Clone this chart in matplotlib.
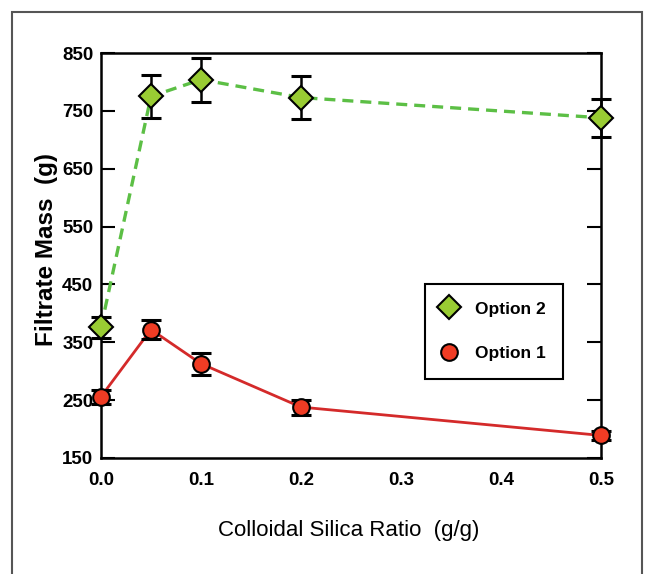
import matplotlib
matplotlib.use("Agg")
import matplotlib.pyplot as plt
from matplotlib.patches import Rectangle
from matplotlib.lines import Line2D

# data
ratio = [0.0, 0.05, 0.1, 0.2, 0.5]
option2 = [376, 775, 804, 773, 738]
option2_err = [18, 37, 38, 37, 33]
option1 = [256, 372, 313, 238, 189]
option1_err = [12, 17, 19, 13, 8]

yticks = [150, 250, 350, 450, 550, 650, 750, 850]
xticks = [0.0, 0.1, 0.2, 0.3, 0.4, 0.5]

green_line = '#5cbf45'
green_fill = '#99cc33'
red_line = '#d42a2a'
red_fill = '#f03c24'

fig = plt.figure(figsize=(6.45, 5.74), dpi=100, facecolor='white')
ax = fig.add_axes([101 / 645, 1 - 458 / 574, 500 / 645, 405 / 574])

# outer frame around the figure
fig.patches.append(Rectangle((12 / 645, -0.05), 630 / 645, 1.05 - 12 / 574,
                             transform=fig.transFigure, fill=False,
                             edgecolor='#555555', linewidth=1.5))

ax.plot(ratio, option2, color=green_line, linestyle=(0, (3.3, 2.1)), linewidth=2.4, zorder=2)
ax.plot(ratio, option1, color=red_line, linewidth=2.0, zorder=2)

ax.errorbar(ratio, option2, yerr=option2_err, fmt='none', ecolor='black',
            elinewidth=1.8, capsize=7.5, capthick=2.2, zorder=3, clip_on=False)
ax.errorbar(ratio, option1, yerr=option1_err, fmt='none', ecolor='black',
            elinewidth=1.8, capsize=7.5, capthick=2.2, zorder=3, clip_on=False)

ax.plot(ratio, option2, linestyle='none', marker='D', markersize=12,
        markerfacecolor=green_fill, markeredgecolor='black', markeredgewidth=1.5,
        zorder=4, clip_on=False)
ax.plot(ratio, option1, linestyle='none', marker='o', markersize=12,
        markerfacecolor=red_fill, markeredgecolor='black', markeredgewidth=1.5,
        zorder=4, clip_on=False)

ax.set_xlim(0, 0.5)
ax.set_ylim(150, 850)
ax.set_xticks(xticks)
ax.set_yticks(yticks)
ax.set_xticklabels([f'{v:.1f}' for v in xticks], fontfamily='Liberation Sans',
                   fontweight='bold', fontsize=13.5)
ax.set_yticklabels([str(v) for v in yticks], fontfamily='Liberation Sans',
                   fontweight='bold', fontsize=13.5)
ax.tick_params(axis='y', direction='in', length=10, width=1.5, left=True, right=True, pad=5.5)
ax.tick_params(axis='x', length=0, pad=10)
for s in ax.spines.values():
    s.set_linewidth(1.8)

ax.set_xlabel('Colloidal Silica Ratio  (g/g)', fontfamily='Liberation Sans', fontsize=16)
ax.set_ylabel('Filtrate Mass  (g)', fontfamily='Liberation Sans',
              fontsize=17.5, fontweight='bold')
ax.xaxis.set_label_coords(0.496, -0.153)
ax.yaxis.set_label_coords(-0.086, 0.514)

handles = [
    Line2D([], [], linestyle='none', marker='D', markersize=12,
           markerfacecolor=green_fill, markeredgecolor='black', markeredgewidth=1.5),
    Line2D([], [], linestyle='none', marker='o', markersize=12,
           markerfacecolor=red_fill, markeredgecolor='black', markeredgewidth=1.5),
]
leg = ax.legend(handles, ['Option 2', 'Option 1'], loc='upper left',
                bbox_to_anchor=(0.648, 0.4296), borderaxespad=0, fancybox=False,
                edgecolor='black', framealpha=1, borderpad=1.0, labelspacing=1.7,
                handletextpad=1.1, handlelength=0.8,
                prop={'family': 'Liberation Sans', 'weight': 'bold', 'size': 12.5})
leg.get_frame().set_linewidth(1.5)

fig.savefig('out.png', dpi=100)
